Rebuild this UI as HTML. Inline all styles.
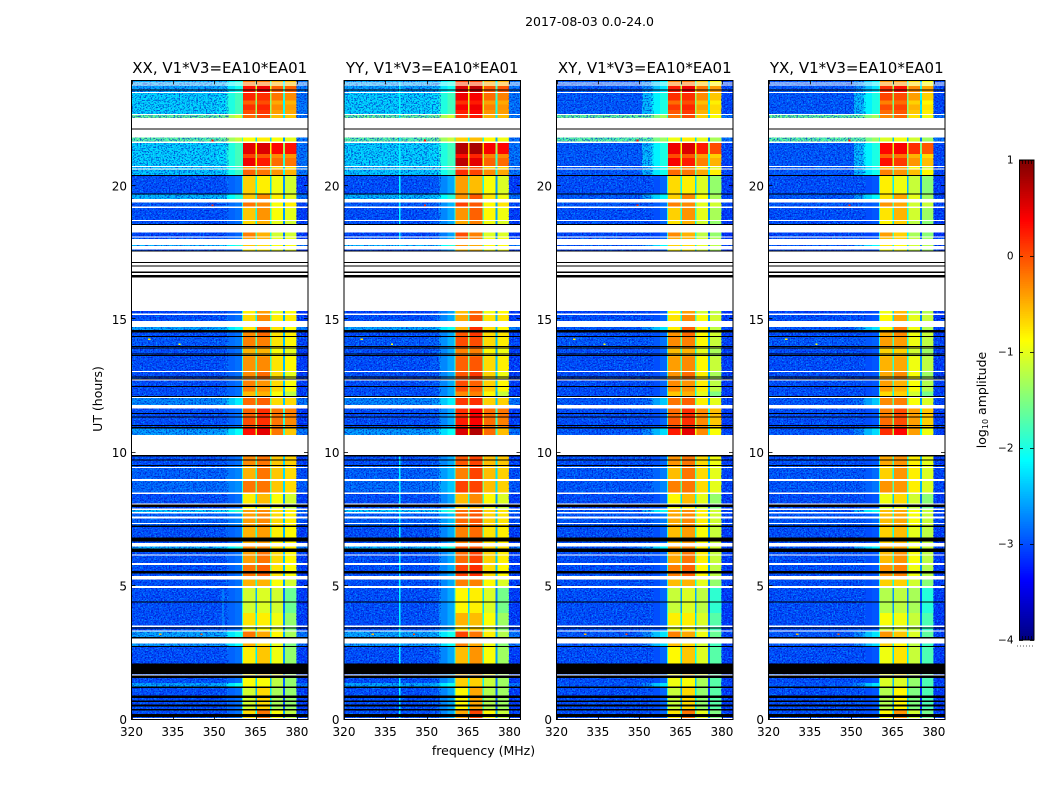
<!DOCTYPE html>
<html>
<head>
<meta charset="utf-8">
<title>2017-08-03 0.0-24.0</title>
<style>
html,body{margin:0;padding:0;background:#fff;width:1050px;height:800px;overflow:hidden}
svg{display:block}
text{font-family:"DejaVu Sans","Liberation Sans",sans-serif;fill:#000}
</style>
</head>
<body>
<svg id="fig" xmlns="http://www.w3.org/2000/svg" width="1050" height="800" viewBox="0 0 1050 800">
  <defs>
    <filter id="speckle-light" x="0" y="0" width="100%" height="100%" color-interpolation-filters="sRGB">
      <feTurbulence type="fractalNoise" baseFrequency="0.62 0.68" numOctaves="2" seed="4"/>
      <feColorMatrix type="matrix" values="0 0 0 0 0  0 0 0 0 0.72  0 0 0 0 1  7 0 0 0 -3.6"/>
    </filter>
    <filter id="speckle-dark" x="0" y="0" width="100%" height="100%" color-interpolation-filters="sRGB">
      <feTurbulence type="fractalNoise" baseFrequency="0.62 0.68" numOctaves="2" seed="11"/>
      <feColorMatrix type="matrix" values="0 0 0 0 0  0 0 0 0 0.02  0 0 0 0 0.75  7 0 0 0 -3.5"/>
    </filter>
  </defs>
  <text x="589.5" y="26" font-size="12.5" text-anchor="middle">2017-08-03 0.0-24.0</text>
  <text x="483.5" y="755" font-size="12.5" text-anchor="middle">frequency (MHz)</text>
  <text transform="translate(102,399) rotate(-90)" font-size="12.5" text-anchor="middle">UT (hours)</text>
  <text transform="translate(986,400) rotate(-90)" font-size="12.5" text-anchor="middle">log<tspan font-size="8" dy="2">10</tspan><tspan dy="-2"> amplitude</tspan></text>
  <g id="panels"></g>
  <g id="colorbar"></g>
</svg>
<script>
// ---- chart data (log10 amplitude, hours, MHz) ----
var panelTitles = ['XX, V1*V3=EA10*EA01', 'YY, V1*V3=EA10*EA01', 'XY, V1*V3=EA10*EA01', 'YX, V1*V3=EA10*EA01'];
var freqTicks = [320, 335, 350, 365, 380];
var hourTicks = [0, 5, 10, 15, 20];
var colorTicks = [1, 0, -1, -2, -3, -4];

// observation blocks, listed from the top of the plot downward
var blockTops = [23.95,23.75,23.51,23.20,23.05,22.85,22.66,21.82,21.60,21.20,21.05,20.75,20.71,20.62,20.37,19.70,19.37,19.18,18.68,18.25,18.07,17.78,17.62,15.31,15.16,14.72,14.50,14.33,13.90,13.60,13.02,12.70,12.30,12.05,11.66,11.30,10.96,9.91,9.50,9.00,8.46,8.06,7.90,7.73,7.21,6.49,6.28,5.80,5.25,4.92,4.00,3.55,3.30,2.84,2.71,1.60,1.37,1.19,0.34];
var blockBg    = [-2.5,-2.55,-2.3,-2.3,-2.3,-2.3,-1.6,-1.65,-2.3,-2.3,-2.3,-2.45,-2.4,-2.35,-3.0,-2.45,-2.95,-3.0,-3.0,-3.05,-3.0,-2.45,-3.05,-3.05,-3.0,-2.55,-3.0,-2.95,-3.0,-3.0,-3.0,-3.0,-3.0,-2.7,-3.0,-3.0,-2.6,-3.0,-2.9,-2.85,-3.0,-3.0,-2.35,-2.9,-3.0,-2.45,-3.0,-3.0,-3.0,-3.0,-3.0,-3.0,-2.55,-2.6,-3.0,-3.0,-2.55,-3.0,-3.0];
var blockBand1 = [-0.2,0.3,0.2,-0.1,0.15,0,-0.15,-0.9,0.5,0.05,0.45,-0.1,-0.4,-0.1,-0.65,-0.6,-0.2,-0.6,-0.7,-0.25,-0.4,-0.6,-0.8,-0.8,-0.7,-0.75,-0.3,-0.25,-0.5,-0.35,-0.3,-0.25,-0.55,-0.15,-0.1,0,0.3,-0.3,-0.5,-0.2,-0.8,-0.9,-0.4,-0.4,-0.5,-0.3,-0.4,-0.2,-0.5,-1.1,-0.75,-1.0,-0.2,-0.5,-0.8,-0.9,-0.9,-1.1,-0.7];
var blockBand2 = [-0.2,0.45,0.15,0,0.2,0.1,0,-0.8,0.55,-0.05,0.25,-0.2,-0.3,-0.2,-0.8,-0.3,-0.3,-0.35,-0.5,-0.5,-0.5,-0.7,-0.8,-0.4,-0.3,-0.1,-0.15,-0.25,-0.5,-0.3,-0.15,-0.35,-0.5,-0.1,0.15,0.15,0.5,-0.2,-0.2,-0.2,-0.55,-0.8,-0.3,-0.3,-0.4,-0.3,-0.2,-0.1,-0.5,-1.05,-0.8,-0.9,-0.45,-0.7,-0.6,-0.9,-0.9,-0.7,-0.2];
var blockBand3 = [-0.5,-0.1,-0.2,-0.45,-0.3,-0.4,-0.55,-0.9,0.35,-0.3,-0.15,-0.5,-0.7,-0.35,-0.95,-0.8,-0.9,-0.9,-1.0,-1.1,-1.0,-0.9,-1.0,-1.0,-0.8,-0.75,-0.75,-0.75,-0.9,-0.75,-0.7,-0.7,-0.9,-0.7,-0.2,-0.2,-0.2,-0.6,-0.6,-0.6,-0.9,-1.0,-0.7,-0.7,-0.8,-0.7,-0.7,-0.75,-0.9,-1.1,-0.95,-1.05,-0.85,-1.0,-0.95,-1.2,-1.2,-1.3,-0.9];
var blockBand4 = [-0.55,-0.1,-0.3,-0.5,-0.4,-0.45,-0.6,-1.0,0.3,-0.35,-0.2,-0.6,-0.75,-0.5,-1.1,-1.0,-0.8,-1.0,-1.1,-1.1,-1.0,-0.9,-1.0,-0.9,-0.8,-0.9,-0.8,-0.85,-1.0,-0.85,-1.0,-0.9,-1.2,-0.7,-0.25,-0.3,-0.6,-0.65,-0.7,-0.7,-1.1,-1.2,-0.8,-0.8,-0.85,-0.8,-0.85,-0.9,-1.1,-1.6,-1.4,-1.5,-1.3,-1.5,-1.4,-1.4,-1.4,-1.4,-1.2];

// per-polarization differences from the XX panel
var panelBgCeil = [0, 0, -2.95, -2.95];
var panelRampShift = [0, 0, -0.2, -0.2];
var panelQuietRamp = [0.35, 0.9, 0.65, 0.5];
var panelBand1Shift = [0, 0.25, -0.05, -0.15];
var panelBand2Shift = [0, 0.25, 0, -0.15];
var panelBand3Shift = [0, 0.05, -0.1, -0.2];
var panelBand4Shift = [0, 0.05, -0.3, -0.35];

// flagged time ranges [lower hour, upper hour]
var whiteGaps = [[23.85,23.87],[23.77,23.80],[23.49,23.51],[22.66,22.70],[22.16,22.55],[21.82,22.12],[21.60,21.66],[20.71,20.75],[20.62,20.66],[19.37,19.50],[19.18,19.22],[18.68,18.72],[18.25,18.53],[18.07,18.10],[17.78,18.00],[17.62,17.75],[16.79,17.55],[16.66,16.74],[15.31,16.56],[15.16,15.22],[14.72,14.93],[13.02,13.06],[12.70,12.75],[12.05,12.08],[11.66,11.78],[9.91,10.66],[9.42,9.47],[8.94,9.01],[8.46,8.50],[8.06,8.09],[7.86,7.90],[7.73,7.77],[7.54,7.60],[7.33,7.37],[6.49,6.62],[6.14,6.18],[5.80,5.87],[5.25,5.37],[4.92,5.00],[3.46,3.53],[3.30,3.34],[2.84,3.04],[1.64,1.68],[0.02,0.05]];
var blackGaps = [[23.60,23.62],[22.12,22.16],[20.37,20.41],[19.70,19.72],[18.53,18.57],[17.55,17.57],[17.12,17.14],[16.99,17.01],[16.74,16.79],[16.56,16.66],[14.50,14.60],[14.33,14.37],[13.97,13.99],[13.90,13.94],[13.70,13.72],[13.62,13.66],[12.83,12.85],[12.75,12.79],[12.47,12.50],[12.08,12.12],[11.45,11.49],[11.31,11.35],[11.00,11.03],[10.91,10.96],[9.85,9.91],[9.72,9.75],[9.51,9.53],[7.96,8.06],[7.21,7.27],[6.67,6.82],[6.28,6.40],[5.47,5.57],[4.40,4.43],[3.41,3.45],[3.04,3.09],[2.71,2.75],[1.71,2.09],[1.55,1.64],[1.19,1.24],[0.81,0.90],[0.65,0.71],[0.49,0.56],[0.34,0.40],[0.09,0.21]];

// narrow interference features
var spikeHours = [21.70,19.28,14.25,14.06,12.10,3.20,3.20];
var spikeFreqs = [349,349,326,337,349,345,330];
var spikeLevels = [0.3,0.2,-0.8,-0.9,-0.2,0.0,-0.5];
var lineFreqs = [340,340,353,340];
var lineTopHours = [23.90,10.00,4.90,4.90];
var lineBottomHours = [17.70,0.05,3.40,0.05];
var lineLevels = [-2.15,-2.15,-2.55,-2.15];
var linePanels = [1,1,0,1];

// ---- layout ----
var NS = 'http://www.w3.org/2000/svg';
var panelLefts = [131.5, 344, 556.5, 768.5];
var panelWidth = 176.5;
var plotTop = 80.5;
var plotBottom = 719.5;
var FMIN = 320, FMAX = 384, HMAX = 23.95;

function make(tag, attrs, parent) {
  var el = document.createElementNS(NS, tag);
  for (var k in attrs) el.setAttribute(k, attrs[k]);
  parent.appendChild(el);
  return el;
}
function clamp(v) { return Math.max(0, Math.min(1, v)); }
function jet(v) {
  var t = clamp((v + 4) / 5);
  var r = clamp(Math.min(4 * t - 1.5, -4 * t + 4.5));
  var g = clamp(Math.min(4 * t - 0.5, -4 * t + 3.5));
  var b = clamp(Math.min(4 * t + 0.5, -4 * t + 2.5));
  return 'rgb(' + Math.round(r * 255) + ',' + Math.round(g * 255) + ',' + Math.round(b * 255) + ')';
}
function yScale(h) { return plotBottom - (h / HMAX) * (plotBottom - plotTop); }
function xScale(p, f) { return panelLefts[p] + (f - FMIN) / (FMAX - FMIN) * panelWidth; }

function cell(g, p, f0, f1, hTop, hBot, color) {
  var x0 = xScale(p, f0), x1 = xScale(p, f1), y0 = yScale(hTop), y1 = yScale(hBot);
  var r = make('rect', {x: x0, y: y0, width: x1 - x0, height: Math.max(y1 - y0, 1), fill: color, 'shape-rendering': 'crispEdges'}, g);
  
  
  return r;
}

function speckle(g, p, f0, f1, filterId, opacity) {
  var x0 = xScale(p, f0), x1 = xScale(p, f1);
  var r = make('rect', {x: x0, y: plotTop, width: x1 - x0, height: plotBottom - plotTop, fill: '#000', filter: 'url(#' + filterId + ')', opacity: opacity}, g);
  
  
}

function drawPanel(p) {
  var root = document.getElementById('panels');
  var g = make('g', {}, root);
  
  

  for (var i = 0; i < blockTops.length; i++) {
    var top = blockTops[i], bot = i + 1 < blockTops.length ? blockTops[i + 1] : 0;
    var xxBg = blockBg[i];
    var bg = xxBg;
    if (panelBgCeil[p] < 0 && xxBg < -1.9) bg = Math.min(xxBg, panelBgCeil[p]);
    var rs = panelRampShift[p];
    var rampGain = xxBg > -2.8 ? 1 : panelQuietRamp[p];
    var b1 = blockBand1[i] + panelBand1Shift[p];
    var b2 = blockBand2[i] + panelBand2Shift[p];
    var b3 = blockBand3[i] + panelBand3Shift[p];
    var b4 = blockBand4[i] + panelBand4Shift[p];
    var right = Math.min(bg, -2.7) - 0.1;
    cell(g, p, 320, 351, top, bot, jet(bg));
    cell(g, p, 351, 354.5, top, bot, jet(Math.max(bg, xxBg + 0.06 * rampGain + rs)));
    cell(g, p, 354.5, 357.5, top, bot, jet(Math.max(bg, xxBg + 0.32 * rampGain + rs)));
    cell(g, p, 357.5, 360, top, bot, jet(Math.max(bg, xxBg + 0.5 * rampGain + rs)));
    cell(g, p, 360, 360.5, top, bot, jet(-1.9));
    cell(g, p, 360.5, 365, top, bot, jet(b1));
    cell(g, p, 365, 365.5, top, bot, jet(b1 - 1.4));
    cell(g, p, 365.5, 370.2, top, bot, jet(b2));
    cell(g, p, 370.2, 370.8, top, bot, jet(b2 - 1.5));
    cell(g, p, 370.8, 375, top, bot, jet(b3));
    cell(g, p, 375, 375.6, top, bot, jet(b3 - 1.7));
    cell(g, p, 375.6, 379.8, top, bot, jet(b4));
    cell(g, p, 379.8, 384, top, bot, jet(right));
  }
  speckle(g, p, 320, 355, 'speckle-light', 0.55);
  speckle(g, p, 320, 355, 'speckle-dark', 0.6);
  speckle(g, p, 379.8, 384, 'speckle-light', 0.55);
  speckle(g, p, 379.8, 384, 'speckle-dark', 0.6);
  for (var l = 0; l < lineFreqs.length; l++) {
    if (linePanels[l] !== p) continue;
    cell(g, p, lineFreqs[l], lineFreqs[l] + 0.45, lineTopHours[l], lineBottomHours[l], jet(lineLevels[l]));
  }
  for (var s = 0; s < spikeHours.length; s++) {
    cell(g, p, spikeFreqs[s], spikeFreqs[s] + 0.8, spikeHours[s] + 0.03, spikeHours[s] - 0.03, jet(spikeLevels[s]));
  }
  for (var w = 0; w < whiteGaps.length; w++) {
    cell(g, p, FMIN, FMAX, whiteGaps[w][1], whiteGaps[w][0], '#ffffff');
  }
  for (var k = 0; k < blackGaps.length; k++) {
    cell(g, p, FMIN, FMAX, blackGaps[k][1], blackGaps[k][0], '#000000');
  }

  var frame = make('rect', {x: panelLefts[p], y: plotTop, width: panelWidth, height: plotBottom - plotTop, fill: 'none', stroke: '#000', 'stroke-width': 1}, g);
  
  

  freqTicks.forEach(function (f) {
    var x = Math.round(xScale(p, f)) + 0.5;
    var t1 = make('line', {x1: x, x2: x, y1: plotBottom, y2: plotBottom - 4, stroke: '#000', 'stroke-width': 0.8}, g);
    
    
    var t2 = make('line', {x1: x, x2: x, y1: plotTop, y2: plotTop + 4, stroke: '#000', 'stroke-width': 0.8}, g);
    
    
    var lab = make('text', {x: xScale(p, f), y: 736, 'font-size': 12, 'text-anchor': 'middle'}, g);
    
    
    lab.textContent = f;
  });
  hourTicks.forEach(function (h) {
    var y = Math.round(yScale(h)) - 0.5;
    var t1 = make('line', {x1: panelLefts[p], x2: panelLefts[p] + 4, y1: y, y2: y, stroke: '#000', 'stroke-width': 0.8}, g);
    
    
    var t2 = make('line', {x1: panelLefts[p] + panelWidth, x2: panelLefts[p] + panelWidth - 4, y1: y, y2: y, stroke: '#000', 'stroke-width': 0.8}, g);
    
    
    var lab = make('text', {x: panelLefts[p] - 4.5, y: yScale(h) + 4.5, 'font-size': 12, 'text-anchor': 'end'}, g);
    
    
    lab.textContent = h;
  });
  var title = make('text', {x: panelLefts[p] + panelWidth / 2, y: 73, 'font-size': 15, 'text-anchor': 'middle'}, g);
  
  
  title.textContent = panelTitles[p];
}

function drawColorbar() {
  var g = document.getElementById('colorbar');
  var left = 1019, right = 1034, top = 160, bottom = 640;
  function cy(v) { return bottom - (v + 4) / 5 * (bottom - top); }
  for (var n = 0; n < 256; n++) {
    var v0 = -4 + 5 * n / 256, v1 = -4 + 5 * (n + 1) / 256;
    var r = make('rect', {x: left, y: cy(v1), width: right - left, height: cy(v0) - cy(v1) + 0.3, fill: jet((v0 + v1) / 2), 'shape-rendering': 'crispEdges'}, g);
    
    
  }
  for (var m = 1; m < 5; m++) {
    var sx = left + m * 3 + 0.5;
    var s1 = make('line', {x1: sx, x2: sx, y1: top, y2: top + 4, stroke: '#000', 'stroke-width': 0.7}, g);
    
    
    var s2 = make('line', {x1: sx, x2: sx, y1: bottom, y2: bottom - 4, stroke: '#000', 'stroke-width': 0.7}, g);
    
    
  }
  var f = make('rect', {x: left + 0.5, y: top, width: right - left - 0.5, height: bottom - top, fill: 'none', stroke: '#000', 'stroke-width': 1}, g);
  
  
  colorTicks.forEach(function (v) {
    var y = Math.round(cy(v)) + 0.5;
    var t1 = make('line', {x1: left, x2: left + 4, y1: y, y2: y, stroke: '#000', 'stroke-width': 0.8}, g);
    
    
    var t2 = make('line', {x1: right, x2: right - 4, y1: y, y2: y, stroke: '#000', 'stroke-width': 0.8}, g);
    
    
    var lab = make('text', {x: 1013.5, y: cy(v) + 3.5, 'font-size': 10.5, 'text-anchor': 'end'}, g);
    
    
    lab.textContent = v < 0 ? '\u2212' + Math.abs(v) : String(v);
  });
  var dots = make('line', {x1: 1017, x2: 1035, y1: 646, y2: 646, stroke: '#555', 'stroke-width': 1, 'stroke-dasharray': '1 2'}, g);
  
  
}

for (var p = 0; p < panelTitles.length; p++) drawPanel(p);
drawColorbar();
</script>
</body>
</html>
